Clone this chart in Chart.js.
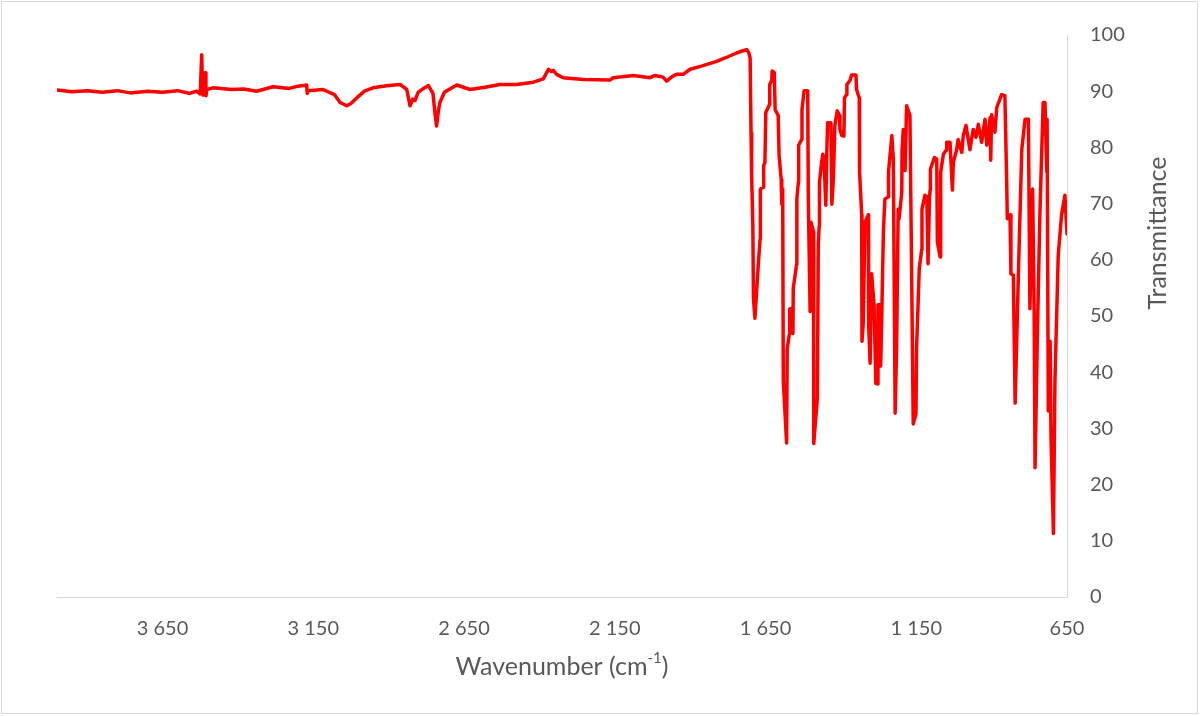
<!DOCTYPE html>
<html>
<head>
<meta charset="utf-8">
<script src="https://cdn.jsdelivr.net/npm/chart.js@4"></script>
<style>
  html, body { margin: 0; padding: 0; background: #fff; }
  #wrap { width: 1200px; height: 716px; }
</style>
</head>
<body>
<div id="wrap"><canvas id="chart" width="1200" height="716"></canvas></div>
<script>
// IR spectrum
const wavenumber = [
    4000, 3950, 3900, 3850, 3800, 3758, 3700, 3650, 3600, 3560,
    3537, 3525, 3520, 3517, 3515, 3511, 3509, 3506, 3503, 3483,
    3420, 3380, 3338, 3283, 3230, 3200, 3172, 3170, 3167, 3118,
    3080, 3061, 3039, 3025, 3006, 2980, 2952, 2900, 2862, 2840,
    2829, 2820, 2813, 2802, 2790, 2768, 2753, 2746, 2741, 2735,
    2730, 2715, 2700, 2674, 2630, 2580, 2531, 2475, 2420, 2387,
    2370, 2360, 2354, 2343, 2321, 2254, 2166, 2155, 2088, 2033,
    2016, 1990, 1978, 1960, 1945, 1923, 1900, 1860, 1812, 1780,
    1746, 1725, 1712, 1705, 1701, 1698, 1696, 1692, 1690, 1685,
    1674, 1668, 1667, 1657, 1656, 1652, 1649, 1637, 1636, 1629,
    1628, 1621, 1618, 1608, 1605, 1598, 1596, 1593, 1591, 1580,
    1578, 1571, 1570, 1560, 1559, 1558, 1547, 1546, 1541, 1540,
    1530, 1529, 1522, 1510, 1508, 1502, 1499, 1491, 1490, 1478,
    1475, 1472, 1471, 1464, 1460, 1456, 1450, 1447, 1444, 1433,
    1430, 1425, 1420, 1412, 1405, 1403, 1397, 1390, 1388, 1381,
    1380, 1370, 1364, 1350, 1348, 1339, 1338, 1331, 1330, 1326,
    1320, 1309, 1308, 1303, 1298, 1290, 1284, 1278, 1277, 1270,
    1268, 1265, 1259, 1254, 1243, 1242, 1231, 1226, 1220, 1215,
    1210, 1207, 1198, 1197, 1193, 1187, 1182, 1171, 1165, 1160,
    1151, 1149, 1140, 1132, 1131, 1121, 1115, 1111, 1106, 1104,
    1103, 1090, 1082, 1080, 1071, 1069, 1060, 1051, 1049, 1038,
    1030, 1027, 1016, 1011, 999, 994, 985, 972, 961, 952,
    944, 933, 922, 916, 905, 903, 900, 889, 883, 867,
    856, 850, 848, 839, 836, 828, 822, 811, 800, 789,
    778, 773, 764, 759, 756, 748, 740, 729, 723, 717,
    716, 712, 706, 703, 695, 690, 679, 668, 657, 650
];

const transmittance = [
    90.2, 89.9, 90.1, 89.8, 90.1, 89.7, 90.0, 89.8, 90.1, 89.6,
    90.0, 89.5, 96.5, 90.0, 89.3, 91.0, 93.3, 89.2, 90.3, 90.6,
    90.3, 90.4, 90.0, 90.8, 90.5, 90.9, 91.1, 89.6, 90.1, 90.3,
    89.4, 88.0, 87.4, 87.8, 88.8, 90.0, 90.6, 91.0, 91.2, 90.3,
    87.4, 88.6, 88.3, 89.8, 90.3, 91.0, 89.6, 85.9, 83.8, 86.5,
    88.0, 89.8, 90.3, 91.1, 90.3, 90.7, 91.2, 91.2, 91.6, 92.2,
    93.9, 93.5, 93.7, 93.0, 92.4, 92.1, 92.0, 92.4, 92.8, 92.4,
    92.8, 92.5, 91.8, 92.6, 93.0, 93.0, 93.9, 94.5, 95.3, 96.0,
    96.8, 97.2, 97.4, 96.8, 95.9, 82.6, 75.0, 66.2, 53.1, 49.6,
    59.1, 63.7, 72.6, 72.9, 76.8, 77.3, 86.2, 87.6, 91.2, 92.0,
    93.6, 93.3, 86.7, 85.7, 78.6, 74.3, 69.9, 72.6, 38.4, 27.4,
    44.2, 46.7, 51.2, 51.4, 46.9, 54.9, 59.1, 70.8, 73.8, 80.4,
    81.4, 86.7, 90.1, 90.1, 70.8, 50.8, 66.7, 65.0, 27.3, 35.4,
    62.7, 66.0, 73.8, 77.3, 78.8, 77.9, 69.7, 78.6, 84.4, 84.4,
    69.9, 74.3, 83.9, 86.5, 85.7, 83.2, 82.1, 82.0, 88.8, 89.4,
    91.2, 91.9, 92.9, 92.9, 90.3, 88.8, 75.6, 68.0, 45.5, 48.5,
    66.7, 68.0, 48.5, 41.6, 57.5, 52.0, 38.0, 37.9, 52.0, 52.0,
    41.1, 48.5, 65.0, 70.8, 71.2, 75.6, 82.1, 77.9, 32.7, 45.0,
    69.0, 67.3, 72.0, 79.6, 83.2, 75.9, 87.4, 85.7, 56.1, 30.8,
    32.6, 44.2, 58.4, 61.8, 69.0, 71.5, 71.2, 59.3, 71.0, 72.4,
    76.1, 78.2, 77.9, 63.2, 60.5, 75.6, 78.8, 79.5, 80.9, 80.9,
    72.4, 77.3, 79.6, 81.4, 79.1, 82.1, 83.9, 79.6, 83.2, 81.8,
    84.1, 80.9, 85.0, 80.4, 85.3, 77.7, 85.8, 82.7, 87.1, 89.4,
    89.2, 73.8, 67.3, 68.0, 57.5, 57.3, 34.5, 57.9, 79.6, 85.0,
    85.0, 51.3, 72.6, 51.3, 23.0, 47.3, 68.0, 88.0, 88.0, 75.6,
    85.0, 33.1, 45.5, 28.3, 11.3, 38.4, 60.9, 68.0, 71.5, 64.6
];

const xTicks = [650, 1150, 1650, 2150, 2650, 3150, 3650];
const xTitle = 'Wavenumber (cm';
const xTitleSup = '-1';
const yTitle = 'Transmittance';

const chartFont = 'Lato, "Open Sans", sans-serif';
const textColor = '#595959';
const axisColor = '#d9d9d9';

const formatWavenumber = (v) => {
    if (v < 1000) return String(v);
    return Math.floor(v / 1000) + ' ' + String(v % 1000).padStart(3, '0');
}

const frame = {
    id: 'frame',
    beforeDraw(chart) {
        const ctx = chart.ctx;
        ctx.save();
        ctx.fillStyle = '#fff';
        ctx.fillRect(0, 0, chart.width, chart.height);
        ctx.strokeStyle = axisColor;
        ctx.lineWidth = 1;
        ctx.strokeRect(1.5, 1.5, chart.width - 4, chart.height - 4);
        ctx.restore();
    },
    afterDraw(chart) {
        const ctx = chart.ctx;
        const area = chart.chartArea;
        ctx.save();
        ctx.fillStyle = textColor;

        // y title, reads bottom to top
        ctx.font = `25px ${chartFont}`;
        ctx.textAlign = 'center';
        ctx.textBaseline = 'middle';
        ctx.translate(area.right + 91, 233);
        ctx.rotate(-Math.PI / 2);
        ctx.fillText(yTitle, 0, 0);
        ctx.setTransform(1, 0, 0, 1, 0, 0);

        // x title with superscript
        const mainFont = `25px ${chartFont}`;
        const supFont = `15px ${chartFont}`;
        ctx.font = mainFont;
        const w1 = ctx.measureText(xTitle).width;
        const w3 = ctx.measureText(')').width;
        ctx.font = supFont;
        const w2 = ctx.measureText(xTitleSup).width;
        const total = w1 + w2 + w3;
        let x = (area.left + area.right) / 2 - total / 2;
        const y = area.bottom + 70;
        ctx.textAlign = 'left';
        ctx.textBaseline = 'middle';
        ctx.font = mainFont;
        ctx.fillText(xTitle, x, y);
        x += w1;
        ctx.font = supFont;
        ctx.fillText(xTitleSup, x, y - 9);
        x += w2;
        ctx.font = mainFont;
        ctx.fillText(')', x, y);
        ctx.restore();
    }
};

const points = wavenumber.map((w, i) => ({ x: w, y: transmittance[i] }));

new Chart(document.getElementById('chart'), {
    type: 'line',
    data: {
        datasets: [{
            data: points,
            borderColor: '#ff0000',
            borderWidth: 3.5,
            pointRadius: 0,
            tension: 0,
            fill: false,
            borderJoinStyle: 'round',
            borderCapStyle: 'round'
        }]
    },
    options: {
        responsive: false,
        animation: false,
        layout: { padding: { left: 57, top: 29, right: 0, bottom: 0 } },
        plugins: {
            legend: { display: false },
            tooltip: { enabled: false }
        },
        scales: {
            x: {
                type: 'linear',
                reverse: true,
                min: 650,
                max: 4000,
                afterBuildTicks: (scale) => {
                    scale.ticks = xTicks.map(v => ({ value: v }));
                },
                afterFit: (scale) => { scale.height = 119; },
                grid: { display: false, drawTicks: false, tickLength: 0 },
                border: { display: true, color: axisColor, width: 1 },
                ticks: {
                    color: textColor,
                    font: { family: chartFont, size: 20 },
                    padding: 20,
                    maxRotation: 0,
                    autoSkip: false,
                    callback: (v) => formatWavenumber(v)
                }
            },
            y: {
                position: 'right',
                min: 0,
                max: 100,
                afterFit: (scale) => { scale.width = 133; },
                grid: { display: false, drawTicks: false, tickLength: 0 },
                border: { display: true, color: axisColor, width: 1 },
                ticks: {
                    stepSize: 10,
                    color: textColor,
                    font: { family: chartFont, size: 20 },
                    padding: 23,
                    crossAlign: 'near'
                }
            }
        }
    },
    plugins: [frame]
});
</script>
</body>
</html>
